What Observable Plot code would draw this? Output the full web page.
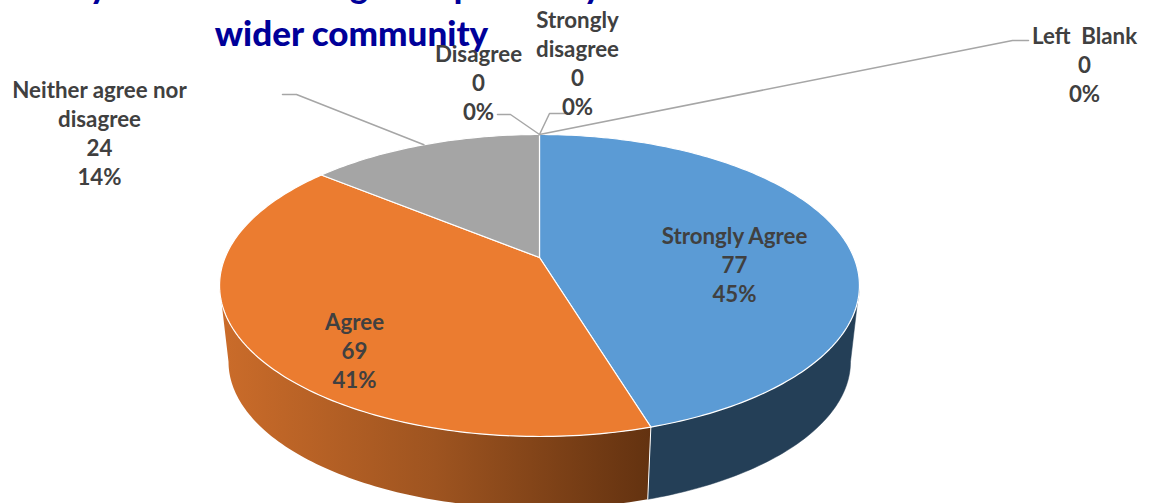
<!DOCTYPE html>
<html><head><meta charset="utf-8">
<style>html,body{margin:0;padding:0;background:#fff;overflow:hidden}svg{display:block}</style>
<script src="https://cdn.jsdelivr.net/npm/d3@7"></script>
<script src="https://cdn.jsdelivr.net/npm/@observablehq/plot@0.6"></script>
</head><body><div id="chart"></div>
<script>
const categories = ["Strongly Agree","Agree","Neither agree nor\ndisagree","Disagree","Strongly\ndisagree","Left  Blank"];
const counts = [77,69,24,0,0,0];
const percents = ["45%","41%","14%","0%","0%","0%"];
const topColors = ["#5B9BD5","#EB7C30","#A5A5A5"];
const titleLines = ["My child is encouraged to positively contribute to the","wider community"];

// Layout (separate from the data): label anchors and leader elbows
const labelX = [734,354,99,478,577,1084];
const labelTop = [236,322,90,54,20,36];
const leaderElbows = [null,null,[[282,94],[296,94]],[[497,114],[510,114]],[[565,113],[549,113]],[[1028,40],[1012,40]]];

const W = 1151, H = 503;
// Perspective disc: centre apex, horizontal/vertical radii and tilt
const persp = {cx:539, cy:257, b:314.4, a:145.8, k:0.1854};
function rim(deg, scale=1, drop=0){
  const t = deg*Math.PI/180, X = Math.sin(t), Y = -Math.cos(t), d = 1-persp.k*Y;
  return {x:persp.cx+scale*persp.b*X/d, y:persp.cy+drop+scale*persp.a*Y/d};
}
const total = d3.sum(counts);
const edges = [0]; counts.forEach(v=>edges.push(edges[edges.length-1]+v/total*360));
const arc = (a0,a1,s=1,dr=0)=>{const n=Math.max(2,Math.ceil(Math.abs(a1-a0)));return d3.range(n+1).map(i=>rim(a0+(a1-a0)*i/n,s,dr));};

const wedge = i => [{x:persp.cx,y:persp.cy},...arc(edges[i],edges[i+1]),{x:persp.cx,y:persp.cy}];
const wall = (a0,a1)=>{const s=0.972,dr=77;return [...arc(a0,a1),...arc(a1,a0,s,dr)];};
const wallBlue = wall(100.7,edges[1]);
const wallOrange = wall(edges[1],259.3);
const closed = p=>[...p,p[0]];

const defs = ()=>{
  const ns="http://www.w3.org/2000/svg";
  const d=document.createElementNS(ns,"defs");
  const g=document.createElementNS(ns,"linearGradient");
  g.setAttribute("id","sideOrange");
  [["0%","#CB6C2A"],["50%","#9E5420"],["100%","#633210"]].forEach(([o,c])=>{
    const s=document.createElementNS(ns,"stop");s.setAttribute("offset",o);s.setAttribute("stop-color",c);g.appendChild(s);
  });
  d.appendChild(g);return d;
};

const labels = categories.map((c,i)=>({text:`${c}\n${counts[i]}\n${percents[i]}`,x:labelX[i],y:labelTop[i]}));
const leaders = leaderElbows.flatMap((e,i)=>{
  if(!e) return [];
  const mid=(edges[i]+edges[i+1])/2;
  return [...e.map(p=>({i,x:p[0],y:p[1]})),{i,...rim(mid)}];
});

const xy={x:"x",y:"y"};
const plot = Plot.plot({
  width:W,height:H,margin:0,
  style:{background:"#fff",overflow:"hidden"},
  x:{domain:[0,W],range:[0,W],axis:null},
  y:{domain:[0,H],range:[0,H],axis:null},
  marks:[
    defs,
    Plot.line(closed(wallBlue),{...xy,fill:"#243F57",stroke:"#243F57",strokeWidth:0.5}),
    Plot.line(closed(wallOrange),{...xy,fill:"url(#sideOrange)",stroke:"none"}),
    Plot.line([rim(edges[1]),rim(edges[1],0.972,77)],{...xy,stroke:"#fff",strokeWidth:1}),
    ...[0,1,2].map(i=>Plot.line(wedge(i),{...xy,fill:topColors[i],stroke:"#fff",strokeWidth:1.2})),
    Plot.line(leaders,{...xy,z:"i",stroke:"#A6A6A6",strokeWidth:1.5}),
    Plot.text([titleLines[0]],{x:[866],y:[-13],text:d=>d,textAnchor:"end",lineAnchor:"middle",fontFamily:"Lato",fontWeight:900,fontSize:34,fill:"#000099"}),
    Plot.text([titleLines[1]],{x:[351],y:[34],text:d=>d,textAnchor:"middle",lineAnchor:"middle",fontFamily:"Lato",fontWeight:900,fontSize:35,fill:"#000099"}),
    Plot.text(labels,{x:"x",y:"y",text:"text",textAnchor:"middle",lineAnchor:"top",lineHeight:1.3,fontFamily:"Lato",fontWeight:700,fontSize:22.3,fill:"#404040",dy:-13})
  ]
});
document.getElementById("chart").appendChild(plot);
</script></body></html>
